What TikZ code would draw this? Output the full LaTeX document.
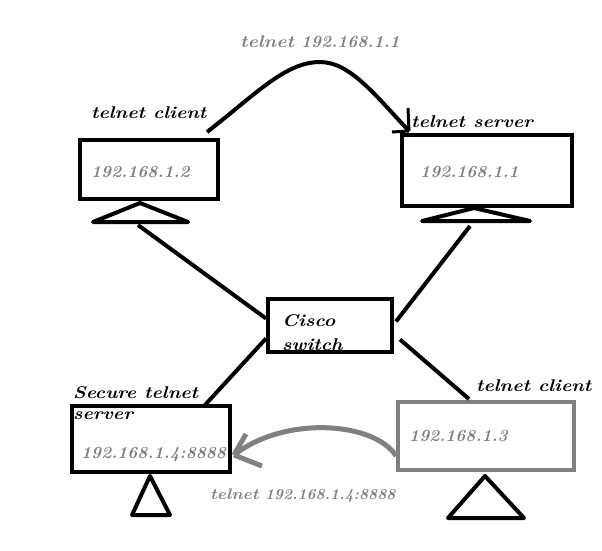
\documentclass[tikz,border=0pt]{standalone}
\usepackage{fontspec}
\newfontfamily\lblfont{Latin Modern Roman}[BoldItalicFeatures={FakeStretch=1.14}]
\usetikzlibrary{calc}
\begin{document}
\begin{tikzpicture}[x=1pt,y=-1pt,
  box/.style={draw,line width=4pt,minimum width=#1,inner sep=0pt},
  lbl/.style={anchor=west,inner sep=0pt,font=\fontsize{17}{19}\lblfont\bfseries\itshape},
  ip/.style={anchor=west,inner sep=0pt,font=\fontsize{17}{19}\selectfont\bfseries\itshape,text={rgb,255:red,128;green,128;blue,128}},
  thick line/.style={line width=4pt},
  tri/.style={line width=4pt,line join=round}]
\definecolor{pgray}{RGB}{128,128,128}
\useasboundingbox (0,0) rectangle (602,551);
% boxes
\node[box=138pt,minimum height=59pt] (c1) at (149,169.5) {};
\node[box=170pt,minimum height=71pt] (srv) at (487,170.5) {};
\node[box=124pt,minimum height=53pt] (sw) at (330,325.5) {};
\node[box=158pt,minimum height=66pt] (sec) at (151,439) {};
\node[box=176pt,minimum height=68pt,draw=pgray] (c2) at (486,436) {};
% triangles (stands)
\coordinate (t1) at (140,203);
\coordinate (t2) at (474,208);
\coordinate (t3) at (150,476);
\coordinate (t4) at (485,476);
\draw[tri] (t1) -- (93,222) -- (188,222) -- cycle;
\draw[tri] (t2) -- (422,221) -- (530,221) -- cycle;
\draw[tri] (t3) -- (132,515) -- (170,515) -- cycle;
\draw[tri] (t4) -- (448,518) -- (524,518) -- cycle;
% links to switch
\coordinate (l1) at (138,225);
\coordinate (l2) at (470,226);
\coordinate (l3) at (205,405);
\coordinate (l4) at (469,399);
\draw[thick line] (l1) -- ($(sw.west)+(0,-7)$);
\draw[thick line] (l2) -- ($(sw.east)+(2,-4)$);
\draw[thick line] ($(sw.west)+(0,13)$) -- (l3);
\draw[thick line] ($(sw.east)+(6,14)$) -- (l4);
% top telnet arrow
\coordinate (a1) at (207,132);
\coordinate (a2) at (409,131);
\draw[thick line] (a1) .. controls (255,95) and (285,62) .. (320,62)
  .. controls (350,62) and (375,95) .. (a2);
\draw[line width=3pt] (a2) -- (408,108);
\draw[line width=3pt] (a2) -- (392,132);
% bottom telnet arrow
\coordinate (b1) at (396,456);
\coordinate (b2) at (234,455);
\draw[line width=5pt,pgray] (b1) .. controls (375,422) and (285,415) .. (b2);
\draw[line width=5pt,pgray] (b2) -- (246,434);
\draw[line width=5pt,pgray] (b2) -- (262,466);
% labels
\node[lbl] (lc1) at (91,113) {telnet client};
\node[lbl] (lsrv) at (411,122) {telnet server};
\node[ip] (ltop) at (240,42) {{\lblfont\bfseries\itshape telnet} 192.168.1.1};
\node[ip] (ip1) at (91,172) {192.168.1.2};
\node[ip] (ip2) at (420,172) {192.168.1.1};
\node[lbl] (lsw1) at (282,321) {Cisco};
\node[lbl] (lsw2) at (282,345) {switch};
\node[lbl] (lsec1) at (73,393) {Secure telnet};
\node[lbl] (lsec2) at (73,416) {server};
\node[ip] (ip4) at (81,455) {192.168.1.4:8888};
\node[lbl] (lc2) at (476,386) {telnet client};
\node[ip] (ip3) at (409,436) {192.168.1.3};
\node[ip,font=\fontsize{15.3}{17}\selectfont\bfseries\itshape] (lbot) at (210,496) {{\lblfont\bfseries\itshape telnet} 192.168.1.4:8888};
\end{tikzpicture}
\end{document}
